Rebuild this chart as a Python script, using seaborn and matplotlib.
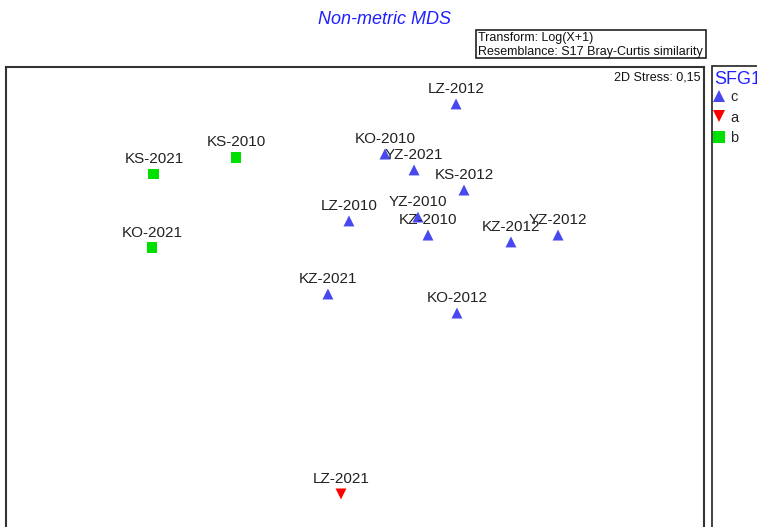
import matplotlib
matplotlib.use("Agg")
import matplotlib.pyplot as plt
from matplotlib.patches import Rectangle
from matplotlib.lines import Line2D
import seaborn as sns
import pandas as pd

sites = ["LZ-2012", "KS-2010", "KS-2021", "KO-2010", "YZ-2021", "KS-2012", "LZ-2010",
         "YZ-2010", "KZ-2010", "KZ-2012", "YZ-2012", "KO-2021", "KZ-2021", "KO-2012", "LZ-2021"]
mds1 = [0.667, -0.80, -1.347, 0.193, 0.387, 0.72, -0.047,
        0.413, 0.48, 1.033, 1.347, -1.36, -0.187, 0.673, -0.10]
mds2 = [1.307, 0.953, 0.84, 0.973, 0.867, 0.733, 0.527,
        0.553, 0.433, 0.387, 0.433, 0.347, 0.04, -0.087, -1.293]
groups = ["c", "b", "b", "c", "c", "c", "c",
          "c", "c", "c", "c", "b", "c", "c", "a"]
group_order = ["c", "a", "b"]
group_colors = {"c": "#4848F0", "a": "#FF0000", "b": "#00E000"}
group_markers = {"c": "^", "a": "v", "b": "s"}

df = pd.DataFrame({"site": sites, "MDS1": mds1, "MDS2": mds2, "SFG1": groups})

sns.set_theme(style="white")
plt.rcParams["font.family"] = ["Liberation Sans", "DejaVu Sans"]

W, H = 757, 527
fig = plt.figure(figsize=(W / 100, H / 100), dpi=100)
ax = fig.add_axes([6 / W, -4 / H, (704 - 6) / W, (531 - 67) / H])

sns.scatterplot(data=df, x="MDS1", y="MDS2", hue="SFG1", style="SFG1",
                hue_order=group_order, style_order=group_order,
                palette=group_colors, markers=group_markers,
                s=62, linewidth=0, ax=ax, legend=False)

for s, x, y in zip(sites, mds1, mds2):
    ax.annotate(s, (x, y), xytext=(0, 11), textcoords="offset points",
                ha="center", va="center", fontsize=11, color="#222222")

ax.set_xlim((6 - 356) / 150, (704 - 356) / 150)
ax.set_ylim((300 - 531) / 150, (300 - 67) / 150)
ax.set_xticks([])
ax.set_yticks([])
ax.set_xlabel("")
ax.set_ylabel("")
for sp in ax.spines.values():
    sp.set_visible(True)
    sp.set_color("#333333")
    sp.set_linewidth(1.5)

fig.text(700 / W, 1 - 77 / H, "2D Stress: 0,15",
         ha="right", va="center", fontsize=9, color="#111111")

# Title
fig.text(385 / W, 1 - 19 / H, "Non-metric MDS", ha="center", va="center",
         fontsize=13, style="italic", color="#2020FF")

# Transform box
fig.patches.append(Rectangle((476 / W, 1 - 58 / H), (706 - 476) / W, 28 / H,
                             transform=fig.transFigure, fill=False,
                             edgecolor="#222222", linewidth=1.2))
fig.text(478 / W, 1 - 38 / H, "Transform: Log(X+1)", ha="left", va="center",
         fontsize=9, color="#111111")
t2 = fig.text(478 / W, 1 - 52 / H, "Resemblance: S17 Bray-Curtis similarity",
              ha="left", va="center", fontsize=9, color="#111111")
clip = Rectangle((476 / W, 1 - 58 / H), (704 - 476) / W, 28 / H,
                 transform=fig.transFigure, visible=False)
fig.patches.append(clip)
t2.set_clip_path(clip)

# Legend box
fig.patches.append(Rectangle((712 / W, -0.05), 0.2, 1.05 - 66 / H,
                             transform=fig.transFigure, fill=False,
                             edgecolor="#222222", linewidth=1.2))
fig.text(714 / W, 1 - 79 / H, "SFG1", ha="left", va="center",
         fontsize=13, color="#2020FF")
handles = [Line2D([], [], marker=group_markers[g], color=group_colors[g],
                  linestyle="", markersize=8, markeredgewidth=0) for g in group_order]
fig.legend(handles, group_order, loc="upper left",
           bbox_to_anchor=(712 / W, 1 - 90 / H), frameon=False,
           fontsize=10.5, handlelength=0.9, handletextpad=0.35,
           labelspacing=0.45, borderpad=0, borderaxespad=0)

fig.savefig("out.png", dpi=100)
